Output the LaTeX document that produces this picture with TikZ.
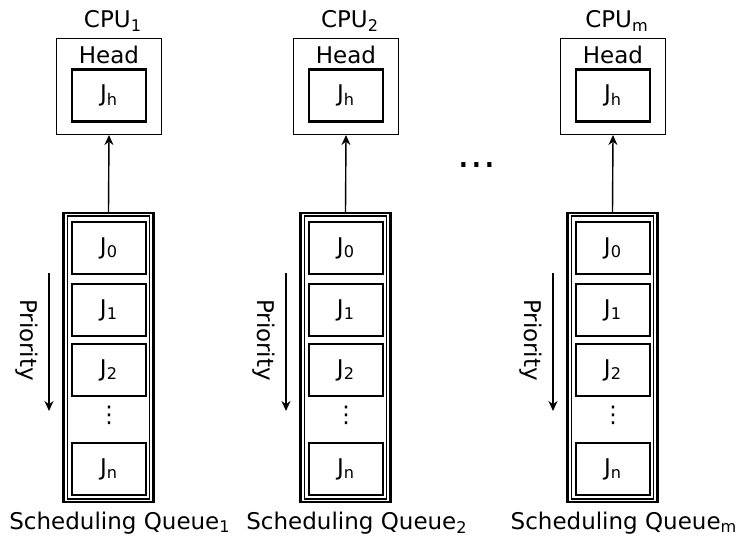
\documentclass[tikz,border=0pt]{standalone}
\usepackage{fontspec}
\setmainfont{DejaVu Sans}
\usetikzlibrary{arrows.meta}

\tikzset{
  cpubox/.style={draw,line width=0.5pt,minimum width=52.5pt,minimum height=48pt,inner sep=0pt},
  jobbox/.style={draw,line width=1.1pt,minimum width=37pt,minimum height=26pt,inner sep=0pt},
  queuebox/.style={draw,line width=1.1pt,minimum width=45pt,minimum height=144.5pt,inner sep=0pt},
  queuein/.style={draw,line width=0.6pt,minimum width=41pt,minimum height=141.5pt,inner sep=0pt},
  lbl/.style={inner sep=0pt},
  feed/.style={line width=0.7pt,-{Stealth[length=5pt,width=4.5pt]}},
}

\begin{document}
\begin{tikzpicture}[x=0.5pt,y=-0.5pt,font=\fontsize{11.5}{13}\selectfont]
\useasboundingbox (0,0) rectangle (739,538);

\begin{scope}
\node[lbl] (cpu) at (113,21) {CPU\textsubscript{1}};
\node[cpubox] (head) at (109,86.5) {};
\node[lbl] (headlbl) at (109,54.5) {Head};
\node[jobbox] (jh) at (109,95.5) {J\textsubscript{h}};

\node[queuebox] (queue) at (108.5,357.5) {};
\node[queuein] (qin) at (108.5,357.5) {};
\node[jobbox] (j0) at (109,248) {J\textsubscript{0}};
\node[jobbox] (j1) at (109,310) {J\textsubscript{1}};
\node[jobbox] (j2) at (109,370) {J\textsubscript{2}};
\node[lbl] (dots) at (109,415) {⋮};
\node[jobbox] (jn) at (109,469) {J\textsubscript{n}};

\draw[feed] (queue.north) -- (head.south);

\coordinate (ptop) at (49,273);
\coordinate (pbot) at (49,411);
\draw[feed] (ptop) -- (pbot);
\node[lbl,rotate=-90] (prio) at (27,340) {Priority};

\node[lbl] (qname) at (120,523) {Scheduling Queue\textsubscript{1}};
\end{scope}

\begin{scope}[shift={(237,0)}]
\node[lbl] (cpu) at (113,21) {CPU\textsubscript{2}};
\node[cpubox] (head) at (109,86.5) {};
\node[lbl] (headlbl) at (109,54.5) {Head};
\node[jobbox] (jh) at (109,95.5) {J\textsubscript{h}};

\node[queuebox] (queue) at (108.5,357.5) {};
\node[queuein] (qin) at (108.5,357.5) {};
\node[jobbox] (j0) at (109,248) {J\textsubscript{0}};
\node[jobbox] (j1) at (109,310) {J\textsubscript{1}};
\node[jobbox] (j2) at (109,370) {J\textsubscript{2}};
\node[lbl] (dots) at (109,415) {⋮};
\node[jobbox] (jn) at (109,469) {J\textsubscript{n}};

\draw[feed] (queue.north) -- (head.south);

\coordinate (ptop) at (49,273);
\coordinate (pbot) at (49,411);
\draw[feed] (ptop) -- (pbot);
\node[lbl,rotate=-90] (prio) at (27,340) {Priority};

\node[lbl] (qname) at (120,523) {Scheduling Queue\textsubscript{2}};
\end{scope}

\node[lbl,font=\fontsize{20}{20}\selectfont] (more) at (477,165) {...};

\begin{scope}[shift={(504,0)}]
\node[lbl] (cpu) at (113,21) {CPU\textsubscript{m}};
\node[cpubox] (head) at (109,86.5) {};
\node[lbl] (headlbl) at (109,54.5) {Head};
\node[jobbox] (jh) at (109,95.5) {J\textsubscript{h}};

\node[queuebox] (queue) at (108.5,357.5) {};
\node[queuein] (qin) at (108.5,357.5) {};
\node[jobbox] (j0) at (109,248) {J\textsubscript{0}};
\node[jobbox] (j1) at (109,310) {J\textsubscript{1}};
\node[jobbox] (j2) at (109,370) {J\textsubscript{2}};
\node[lbl] (dots) at (109,415) {⋮};
\node[jobbox] (jn) at (109,469) {J\textsubscript{n}};

\draw[feed] (queue.north) -- (head.south);

\coordinate (ptop) at (49,273);
\coordinate (pbot) at (49,411);
\draw[feed] (ptop) -- (pbot);
\node[lbl,rotate=-90] (prio) at (27,340) {Priority};

\node[lbl] (qname) at (120,523) {Scheduling Queue\textsubscript{m}};
\end{scope}

\end{tikzpicture}
\end{document}
